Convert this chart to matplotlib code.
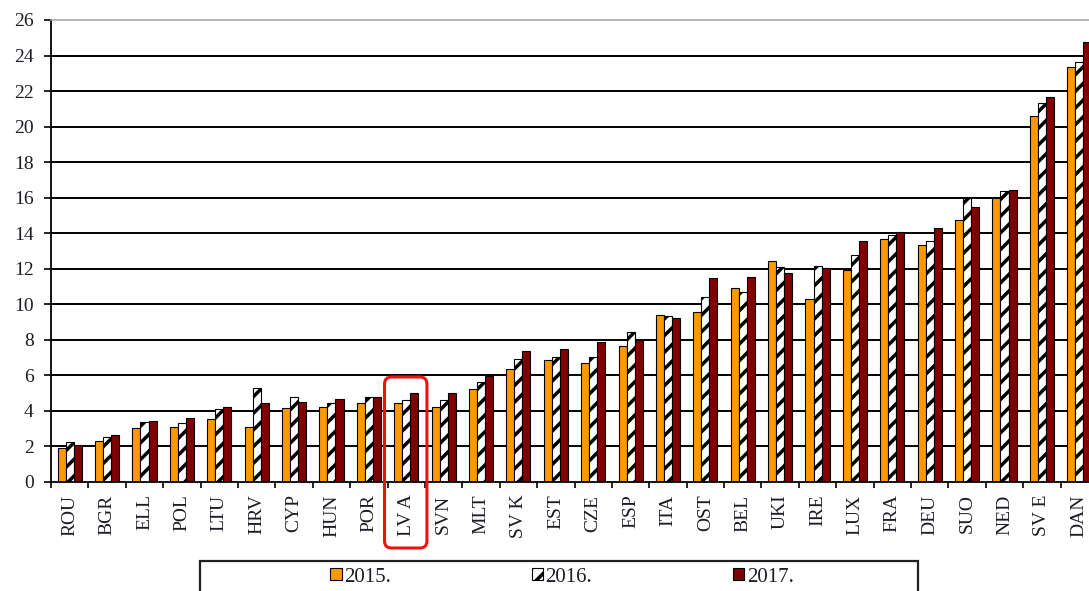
import matplotlib
matplotlib.use("Agg")
import matplotlib.pyplot as plt
import numpy as np
from matplotlib.patches import Patch, Rectangle, FancyBboxPatch
from matplotlib.transforms import IdentityTransform

# Share per country, three years
countries = ["ROU", "BGR", "ELL", "POL", "LTU", "HRV", "CYP", "HUN", "POR", "LV A",
             "SVN", "MLT", "SV K", "EST", "CZE", "ESP", "ITA", "OST", "BEL", "UKI",
             "IRE", "LUX", "FRA", "DEU", "SUO", "NED", "SV E", "DAN"]
share_2015 = [1.93, 2.28, 3.03, 3.12, 3.55, 3.12, 4.15, 4.24, 4.43, 4.43,
              4.24, 5.23, 6.35, 6.87, 6.69, 7.64, 9.39, 9.55, 10.94, 12.43,
              10.32, 11.92, 13.67, 13.33, 14.72, 15.99, 20.60, 23.37]
share_2016 = [2.24, 2.52, 3.36, 3.30, 4.13, 5.29, 4.76, 4.43, 4.76, 4.62,
              4.62, 5.64, 6.91, 7.06, 7.04, 8.46, 9.36, 10.43, 10.71, 12.12,
              12.16, 12.77, 13.92, 13.59, 15.97, 16.38, 21.31, 23.63]
share_2017 = [2.06, 2.67, 3.46, 3.62, 4.24, 4.43, 4.50, 4.67, 4.76, 5.03,
              5.03, 5.98, 7.40, 7.47, 7.88, 7.98, 9.21, 11.47, 11.56, 11.75,
              12.07, 13.58, 14.08, 14.27, 15.50, 16.46, 21.65, 24.77]
years = ["2015.", "2016.", "2017."]
y_ticks = list(range(0, 27, 2))
highlight = "LV A"

plt.rcParams["font.family"] = ["Liberation Serif", "DejaVu Serif"]
plt.rcParams["hatch.linewidth"] = 2.5
text_color = "#1c1c24"

W, H = 1089, 591
fig = plt.figure(figsize=(W / 100, H / 100), dpi=100)
ax = fig.add_axes([51 / W, 109 / H, 1047 / W, 462 / H])

x = np.arange(len(countries))
bw = 0.215
styles = [
    dict(color="#FF9900", edgecolor="black"),
    dict(color="white", edgecolor="black", hatch="//"),
    dict(color="#800000", edgecolor="black"),
]
for k, (vals, st) in enumerate(zip([share_2015, share_2016, share_2017], styles)):
    ax.bar(x + (k - 1) * bw, vals, bw, linewidth=0.8, zorder=2, **st)

ax.set_xlim(-0.5, len(countries) - 0.5)
ax.set_ylim(0, 26)
ax.hlines(y_ticks[1:-1], -0.5, len(countries) - 0.5, colors="black", lw=1.4, zorder=0.5)

ax.set_yticks(y_ticks)
ax.tick_params(axis="y", direction="out", length=5, width=1.2, pad=7.5,
               labelsize=14, labelcolor=text_color)
ax.set_xticks(x)
ax.set_xticklabels(countries, rotation=90)
ax.set_xticks(np.arange(len(countries) + 1) - 0.5, minor=True)
ax.tick_params(axis="x", which="major", length=0, pad=9, labelsize=14,
               labelcolor=text_color)
ax.tick_params(axis="x", which="minor", direction="out", length=4.5, width=1.2)

ax.spines["right"].set_visible(False)
ax.spines["top"].set_color("#a8a8a8")
ax.spines["top"].set_linewidth(1.2)
ax.spines["left"].set_linewidth(1.3)
ax.spines["bottom"].set_linewidth(1.3)

# legend strip at the bottom
handles = [Patch(facecolor=st["color"], edgecolor="black", hatch=st.get("hatch"),
                 linewidth=0.8) for st in styles]
fig.legend(handles, years, loc="center", bbox_to_anchor=(562 / W, 14 / H), ncol=3,
           frameon=False, fontsize=15, handlelength=0.55, handleheight=0.55,
           handletextpad=0.12, columnspacing=6.75, labelcolor=text_color)
fig.add_artist(Rectangle((200 / W, -0.05), 718 / W, 30 / H + 0.05,
                         transform=fig.transFigure, fill=False,
                         edgecolor="#202020", linewidth=1.6))

# rounded red frame around the highlighted country
i = countries.index(highlight)
x0 = ax.transData.transform((i - 0.5, 0))[0] - 3
x1 = ax.transData.transform((i + 0.5, 0))[0] + 2
fig.add_artist(FancyBboxPatch((x0, 43), x1 - x0, 171,
                              boxstyle="round,pad=0,rounding_size=7",
                              transform=IdentityTransform(), fill=False,
                              edgecolor="#ee1111", linewidth=2.2))

fig.savefig("out.png", dpi=100)
